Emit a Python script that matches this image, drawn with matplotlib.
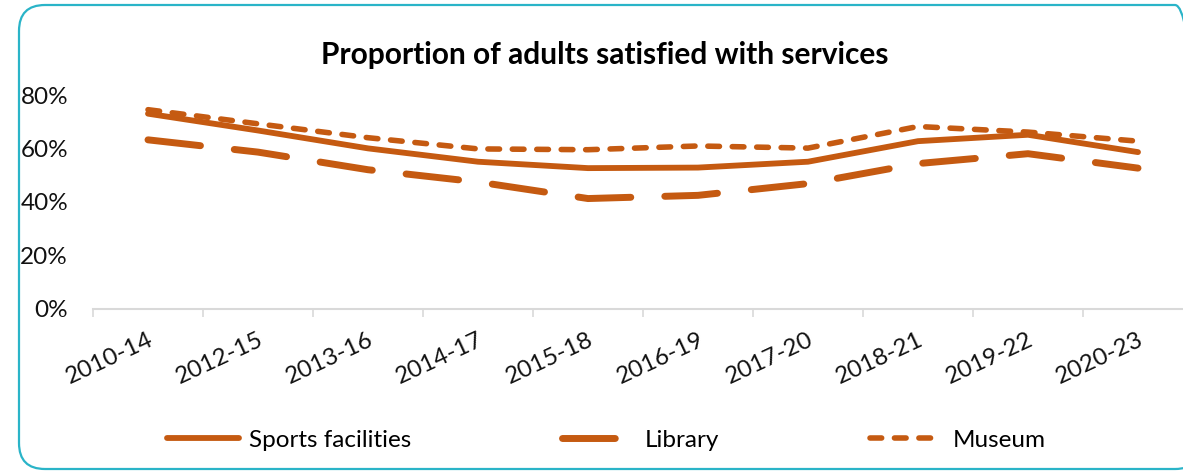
import matplotlib
matplotlib.use("Agg")
import matplotlib.pyplot as plt
from matplotlib.patches import FancyBboxPatch
from matplotlib.transforms import Affine2D
from matplotlib.ticker import PercentFormatter, FixedLocator, NullFormatter

periods = ["2010-14", "2012-15", "2013-16", "2014-17", "2015-18",
           "2016-19", "2017-20", "2018-21", "2019-22", "2020-23"]
sports = [73, 66.7, 60, 55, 52.6, 52.8, 55, 62.7, 65.1, 58.6]
library = [63.2, 58.6, 52, 47.4, 41.2, 42.4, 46.8, 54.3, 58, 52.6]
museum = [74.5, 69.2, 64, 59.8, 59.5, 60.9, 60.1, 68.2, 66.1, 62.7]

orange = "#C55A11"
frame = "#2AB4C8"

plt.rcParams["font.family"] = ["Lato", "DejaVu Sans"]

W, H = 1183, 471
fig = plt.figure(figsize=(W / 100, H / 100), dpi=100)

# rounded outer frame, laid out in pixel units of the canvas; its right
# side runs just past the canvas edge
px = Affine2D().scale(1 / W, 1 / H) + fig.transFigure
fig.patches.append(FancyBboxPatch((19, H - 469), 1182, 464,
                                  boxstyle="round,pad=0,rounding_size=26",
                                  transform=px, fill=False,
                                  edgecolor=frame, linewidth=1.6))

left, right = 93 / W, 1193 / W
bottom, top = 1 - 308.5 / H, 1 - 95 / H
ax = fig.add_axes([left, bottom, right - left, top - bottom])

x = list(range(len(periods)))
ax.plot(x, sports, color=orange, lw=4.2, solid_capstyle="round",
        solid_joinstyle="round", label="Sports facilities")
ax.plot(x, library, color=orange, lw=5.0, dash_capstyle="round",
        dash_joinstyle="round", dashes=(7.6, 4.9), label="Library")
ax.plot(x, museum, color=orange, lw=4.0, dash_capstyle="round",
        dash_joinstyle="round", dashes=(2.1, 2.3), label="Museum")

ax.set_xlim(-0.5, len(periods) - 0.5)
ax.set_ylim(0, 80)
ax.yaxis.set_major_locator(FixedLocator([0, 20, 40, 60, 80]))
ax.yaxis.set_major_formatter(PercentFormatter(decimals=0))
ax.tick_params(axis="y", length=0, pad=18, labelsize=17.5, labelcolor="#111111")

# category ticks sit on boundaries, labels at centres
ax.xaxis.set_major_locator(FixedLocator([i - 0.5 for i in range(len(periods) + 1)]))
ax.xaxis.set_major_formatter(NullFormatter())
ax.set_xticks(x, minor=True)
ax.set_xticklabels(periods, minor=True, rotation=25, ha="right",
                   rotation_mode="anchor", fontsize=17.5, color="#111111")
ax.tick_params(axis="x", which="major", length=6, width=1.2, color="#D9D9D9")
ax.tick_params(axis="x", which="minor", length=0, pad=15)

for s in ("left", "right", "top"):
    ax.spines[s].set_visible(False)
ax.spines["bottom"].set_color("#D9D9D9")
ax.spines["bottom"].set_linewidth(1.5)
ax.patch.set_alpha(0)

fig.text(605 / W, 1 - 55 / H, "Proportion of adults satisfied with services",
         ha="center", va="center", fontsize=21.5, fontweight="bold", color="black")

fig.legend(loc="center", bbox_to_anchor=(606 / W, 1 - 440 / H), ncol=3,
           frameon=False, fontsize=17.5, handlelength=3.0, handletextpad=0.4,
           columnspacing=6.2)

fig.savefig("out.png", dpi=100, facecolor="white")
